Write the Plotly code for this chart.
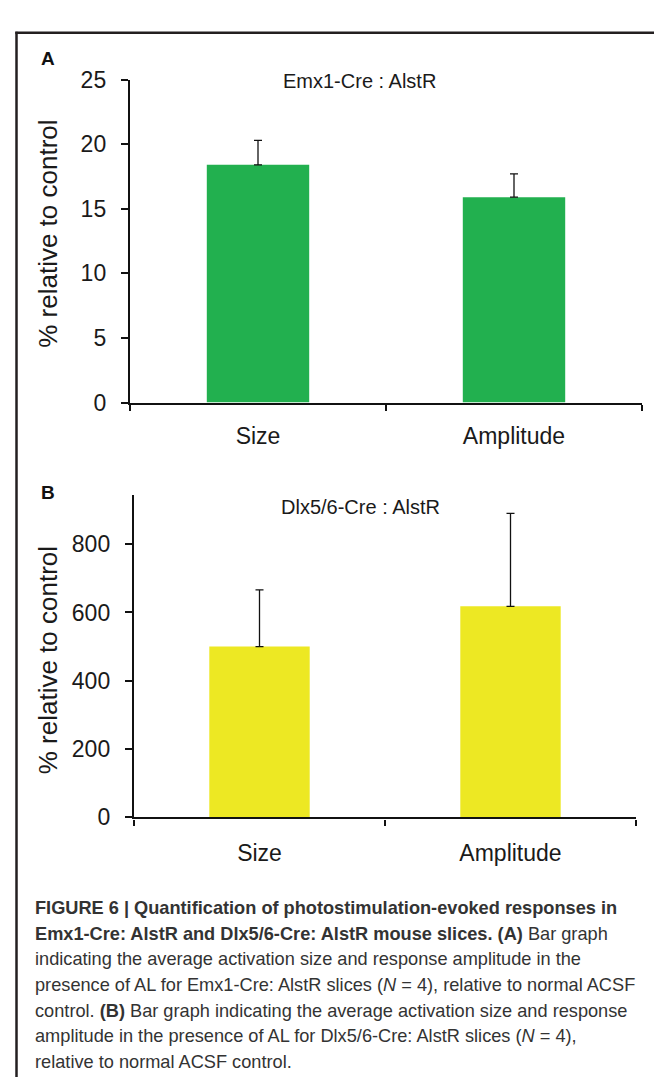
import plotly.graph_objects as go

W, H = 662, 1082

categories = ["Size", "Amplitude"]
emx_values = [18.4, 15.9]
emx_errors = [1.9, 1.8]
dlx_values = [500, 618]
dlx_errors = [166, 272]
emx_ticks = [0, 5, 10, 15, 20, 25]
dlx_ticks = [0, 200, 400, 600, 800]

GREEN = "#22b04f"
YELLOW = "#ede823"
FONT = "Liberation Sans, Arial, sans-serif"


def px_x(x):
    return x / W


def px_y(y):
    return 1 - y / H


fig = go.Figure()

fig.add_trace(go.Bar(
    x=categories, y=emx_values, marker=dict(color=GREEN, line=dict(width=0)),
    error_y=dict(type="data", symmetric=False, array=emx_errors, arrayminus=[0, 0],
                 color="#111", thickness=1.3, width=4),
    xaxis="x", yaxis="y", width=0.4, showlegend=False))

fig.add_trace(go.Bar(
    x=categories, y=dlx_values, marker=dict(color=YELLOW, line=dict(width=0)),
    error_y=dict(type="data", symmetric=False, array=dlx_errors, arrayminus=[0, 0],
                 color="#111", thickness=1.3, width=4),
    xaxis="x2", yaxis="y2", width=0.4, showlegend=False))

axis_common = dict(showgrid=False, zeroline=False, showline=True, linecolor="#111",
                   linewidth=2.4, ticks="outside", tickcolor="#111", tickwidth=2.2,
                   tickfont=dict(family=FONT, size=23, color="#1a1a1a"))

fig.update_layout(
    width=W, height=H, margin=dict(l=0, r=0, t=0, b=0),
    paper_bgcolor="white", plot_bgcolor="white",
    xaxis=dict(domain=[px_x(122), px_x(634)], anchor="y", type="category",
               tickson="boundaries", ticklen=6, ticklabelstandoff=12, **axis_common),
    yaxis=dict(domain=[px_y(391), px_y(60)], anchor="x", range=[0, 25],
               tickvals=emx_ticks, ticklen=7, ticklabelstandoff=10, **axis_common),
    xaxis2=dict(domain=[px_x(126), px_x(628)], anchor="y2", type="category",
                tickson="boundaries", ticklen=6, ticklabelstandoff=14, **axis_common),
    yaxis2=dict(domain=[px_y(816), px_y(486)], anchor="x2", range=[0, 943],
                tickvals=dlx_ticks, ticklen=7, ticklabelstandoff=10, **axis_common),
)

# frame
fig.add_shape(type="line", xref="paper", yref="paper", x0=px_x(8.5), x1=px_x(8.5),
              y0=px_y(11), y1=0, line=dict(color="#231f20", width=2.5))
fig.add_shape(type="line", xref="paper", yref="paper", x0=px_x(7.3), x1=1,
              y0=px_y(12), y1=px_y(12), line=dict(color="#231f20", width=2.5))

ann = []
# panel letters
ann.append(dict(text="<b>A</b>", x=px_x(31), y=px_y(38), xanchor="left", yanchor="middle",
                font=dict(family=FONT, size=19, color="#111")))
ann.append(dict(text="<b>B</b>", x=px_x(31), y=px_y(483), xanchor="left", yanchor="middle",
                font=dict(family=FONT, size=19, color="#111")))
# panel titles
ann.append(dict(text="Emx1-Cre : AlstR", x=px_x(351), y=px_y(61), xanchor="center", yanchor="middle",
                font=dict(family=FONT, size=20, color="#1a1a1a")))
ann.append(dict(text="Dlx5/6-Cre : AlstR", x=px_x(352), y=px_y(498), xanchor="center", yanchor="middle",
                font=dict(family=FONT, size=20, color="#1a1a1a")))
# y axis titles
for yc in (218, 655):
    ann.append(dict(text="% relative to control", x=px_x(40), y=px_y(yc), textangle=-90,
                    xanchor="center", yanchor="middle",
                    font=dict(family=FONT, size=26, color="#1a1a1a")))

# caption
cap_lines = [
    "<b>FIGURE 6 | Quantification of photostimulation-evoked responses in</b>",
    "<b>Emx1-Cre: AlstR and Dlx5/6-Cre: AlstR mouse slices. (A)</b> Bar graph",
    "indicating the average activation size and response amplitude in the",
    "presence of AL for Emx1-Cre: AlstR slices (<i>N</i> = 4), relative to normal ACSF",
    "control. <b>(B)</b> Bar graph indicating the average activation size and response",
    "amplitude in the presence of AL for Dlx5/6-Cre: AlstR slices (<i>N</i> = 4),",
    "relative to normal ACSF control.",
]
for i, line in enumerate(cap_lines):
    ann.append(dict(text=line, x=px_x(25), y=px_y(909 + i * 26.3), xanchor="left", yanchor="middle",
                    font=dict(family=FONT, size=18.2, color="#333")))

for a in ann:
    a.update(xref="paper", yref="paper", showarrow=False)
fig.update_layout(annotations=ann)

fig.write_html("out.html")
